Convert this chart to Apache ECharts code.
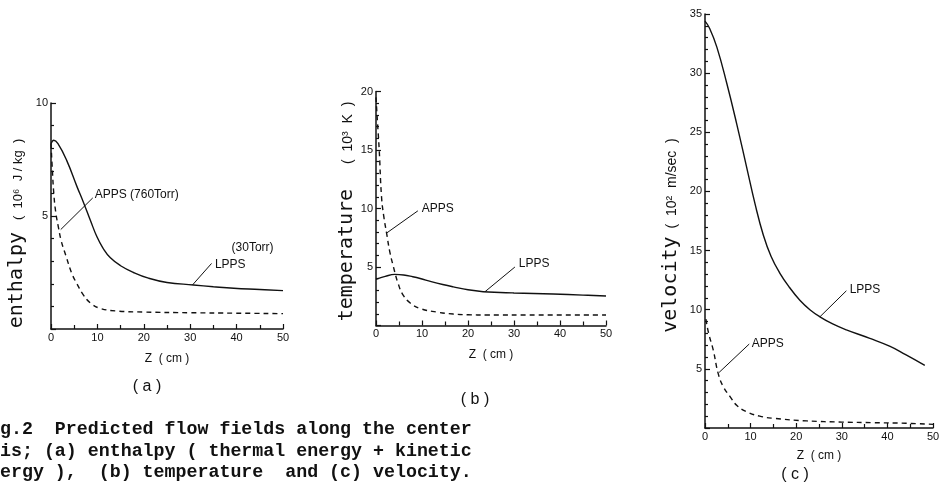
<!DOCTYPE html>
<html><head><meta charset="utf-8">
<script src="https://cdn.jsdelivr.net/npm/echarts/dist/echarts.min.js"></script>
<style>html,body{margin:0;padding:0;background:#fff}#c{width:950px;height:499px}</style>
</head><body><div id="c"></div>
<script>
// ---- data ----
const zTickLabels = [0, 10, 20, 30, 40, 50];

// (a) enthalpy, 10^6 J/kg
const enthLppsZ = [0, 0.6, 1.5, 3.4, 5.6, 7, 8.5, 9.9, 11.2, 12.8, 15, 17.8, 21, 25, 30.7, 35, 39.4, 45, 50];
const enthLppsV = [8.2, 8.35, 8.2, 7.45, 6.3, 5.6, 4.8, 4.08, 3.58, 3.15, 2.8, 2.5, 2.25, 2.06, 1.95, 1.87, 1.8, 1.75, 1.7];
const enthAppsZ = [0, 0.3, 0.6, 1.0, 1.6, 2.2, 3.2, 4.5, 5.6, 7, 8.5, 10.5, 14, 20, 30, 40, 50];
const enthAppsV = [8.2, 7.0, 6.0, 5.2, 4.5, 3.9, 3.25, 2.45, 2.0, 1.5, 1.15, 0.92, 0.8, 0.75, 0.72, 0.7, 0.68];

// (b) temperature, 10^3 K
const tempLppsZ = [0, 2, 4.1, 6, 8, 9.6, 12, 14.5, 16.8, 20, 23.3, 27, 30, 38.5, 45, 50];
const tempLppsV = [3.95, 4.2, 4.37, 4.32, 4.17, 4.02, 3.75, 3.5, 3.3, 3.05, 2.89, 2.82, 2.78, 2.69, 2.6, 2.52];
const tempAppsZ = [0, 0.3, 0.7, 1.2, 1.7, 2.3, 3.0, 3.8, 4.8, 5.9, 7.5, 9.6, 13.2, 16.8, 20, 24, 35, 50];
const tempAppsV = [19.5, 17.5, 15, 11, 9.3, 7.9, 6.3, 5.0, 3.6, 2.6, 1.9, 1.45, 1.15, 0.98, 0.92, 0.9, 0.9, 0.9];

// (c) velocity, 10^2 m/sec
const velLppsZ = [0, 1, 2.6, 4.8, 6.9, 9.1, 11, 12.8, 14.5, 16.4, 18.5, 20.8, 23, 25.2, 28, 31, 36, 40.6, 44, 48.2];
const velLppsV = [34.4, 33.8, 32.2, 29.1, 25.8, 22.1, 18.9, 16.3, 14.5, 13.1, 11.9, 10.8, 10.0, 9.4, 8.8, 8.3, 7.6, 6.9, 6.2, 5.3];
const velAppsZ = [0.2, 0.8, 1.8, 2.9, 4, 5.5, 7, 9.1, 12, 15, 22.3, 30, 36.9, 44, 50];
const velAppsV = [9.2, 8.0, 6.6, 4.6, 3.5, 2.65, 1.9, 1.38, 1.0, 0.82, 0.6, 0.5, 0.45, 0.4, 0.31];

// annotations: [text, z, value] and leader lines [z1, v1, z2, v2]
const notesA = [['APPS (760Torr)', 9.1, 5.93], ['(30Torr)', 38.6, 3.58], ['LPPS', 35.0, 2.83]];
const leadersA = [[2.1, 4.4, 9.0, 5.8], [30.5, 1.95, 34.6, 2.9]];
const notesB = [['APPS', 9.6, 9.96], ['LPPS', 30.7, 5.26]];
const leadersB = [[2.3, 7.9, 9.1, 9.8], [23.7, 2.89, 30.2, 5.0]];
const notesC = [['LPPS', 31.4, 11.66], ['APPS', 9.9, 7.1]];
const leadersC = [[25.2, 9.4, 31.0, 11.6], [3.1, 4.7, 9.7, 7.1]];

const captionLines = [
  'g.2  Predicted flow fields along the center',
  'is; (a) enthalpy ( thermal energy + kinetic',
  'ergy ),  (b) temperature  and (c) velocity.'
];
const panelLabels = ['( a )', '( b )', '( c )'];

// ---- chart ----
const INK = '#111';
const zip = (xs, ys) => xs.map((x, i) => [x, ys[i]]);

function xAxisFor(gi, gap) {
  return {
    type: 'value', gridIndex: gi, min: 0, max: 50, interval: 10,
    axisLine: { lineStyle: { color: INK, width: 1.5 } },
    axisTick: { inside: true, length: 5, lineStyle: { color: INK, width: 1.2 } },
    minorTick: { show: true, splitNumber: 2, length: 4, lineStyle: { color: INK, width: 1.2 } },
    splitLine: { show: false },
    axisLabel: { color: INK, fontSize: 11, fontFamily: 'Liberation Sans', margin: 3,
      formatter: v => zTickLabels.includes(v) ? String(v) : '' },
    name: 'Z  ( cm )', nameLocation: 'middle', nameGap: gap,
    nameTextStyle: { color: INK, fontSize: 12, fontFamily: 'Liberation Sans' }
  };
}
function yAxisFor(gi, max, name, gap, smallSize, gapBetween, shift) {
  return {
    type: 'value', gridIndex: gi, min: 0, max: max, interval: 5,
    axisLine: { lineStyle: { color: INK, width: 1.5 } },
    axisTick: { inside: true, length: 5, lineStyle: { color: INK, width: 1.2 } },
    minorTick: { show: true, splitNumber: 5, length: 3, lineStyle: { color: INK, width: 1.2 } },
    splitLine: { show: false },
    axisLabel: { color: INK, fontSize: 11, fontFamily: 'Liberation Sans', margin: 3,
      formatter: v => v === 0 ? '' : String(v) },
    name: name, nameLocation: 'middle', nameRotate: 90, nameGap: gap,
    nameTextStyle: {
      rich: {
        t: { fontFamily: 'DejaVu Sans Mono', fontSize: 20, lineHeight: 22, color: INK, verticalAlign: 'bottom' },
        s: { fontFamily: "'Liberation Sans','DejaVu Sans'", fontSize: smallSize, lineHeight: 22, color: INK,
             verticalAlign: 'bottom', padding: [0, shift, 2, gapBetween] }
      }
    }
  };
}
function lineSeries(gi, data, dashed, notes, leaders) {
  const s = {
    type: 'line', xAxisIndex: gi, yAxisIndex: gi, data: data,
    showSymbol: false, smooth: 0.45, silent: true,
    lineStyle: { color: INK, width: 1.4, type: dashed ? [5, 4] : 'solid' }
  };
  if (notes) {
    s.markPoint = {
      symbol: 'circle', symbolSize: 1, silent: true,
      itemStyle: { color: 'rgba(0,0,0,0)' },
      label: { show: true, position: 'right', distance: 1, color: INK, fontSize: 12,
               fontFamily: 'Liberation Sans', formatter: p => p.name },
      data: notes.map(n => ({ name: n[0], coord: [n[1], n[2]] }))
    };
    s.markLine = {
      silent: true, symbol: ['none', 'none'], label: { show: false },
      lineStyle: { color: INK, width: 1, type: 'solid' },
      data: leaders.map(l => [{ coord: [l[0], l[1]] }, { coord: [l[2], l[3]] }])
    };
  }
  return s;
}

const chart = echarts.init(document.getElementById('c'), null, { renderer: 'canvas' });
chart.setOption({
  animation: false,
  backgroundColor: '#fff',
  grid: [
    { left: 51, top: 103, width: 232, height: 226 },
    { left: 376, top: 91.5, width: 230, height: 234 },
    { left: 705, top: 14, width: 228, height: 414 }
  ],
  xAxis: [xAxisFor(0, 24), xAxisFor(1, 23), xAxisFor(2, 22)],
  yAxis: [
    yAxisFor(0, 10, '{t|enthalpy}{s|(  10⁶  J / kg  )}', 24, 13, 12, 35),
    yAxisFor(1, 20, '{t|temperature}{s|(  10³  K  )}', 19, 14, 25, 6),
    yAxisFor(2, 35, '{t|velocity}{s|(  10²  m/sec  )}', 24, 14, 8, 29)
  ],
  series: [
    lineSeries(0, zip(enthLppsZ, enthLppsV), false, notesA, leadersA),
    lineSeries(0, zip(enthAppsZ, enthAppsV), true),
    lineSeries(1, zip(tempLppsZ, tempLppsV), false, notesB, leadersB),
    lineSeries(1, zip(tempAppsZ, tempAppsV), true),
    lineSeries(2, zip(velLppsZ, velLppsV), false, notesC, leadersC),
    lineSeries(2, zip(velAppsZ, velAppsV), true)
  ],
  graphic: [
    { type: 'text', x: 147, y: 387, style: { text: panelLabels[0], fill: INK, font: '16px "Liberation Sans"', align: 'center', verticalAlign: 'middle' } },
    { type: 'text', x: 475, y: 400, style: { text: panelLabels[1], fill: INK, font: '16px "Liberation Sans"', align: 'center', verticalAlign: 'middle' } },
    { type: 'text', x: 795, y: 475, style: { text: panelLabels[2], fill: INK, font: '16px "Liberation Sans"', align: 'center', verticalAlign: 'middle' } },
    { type: 'text', x: 0, y: 419, style: { text: captionLines.join('\n'), fill: INK, font: 'bold 18.3px "Liberation Mono"', lineHeight: 21.5, align: 'left', verticalAlign: 'top' } }
  ]
});
</script>
</body></html>
